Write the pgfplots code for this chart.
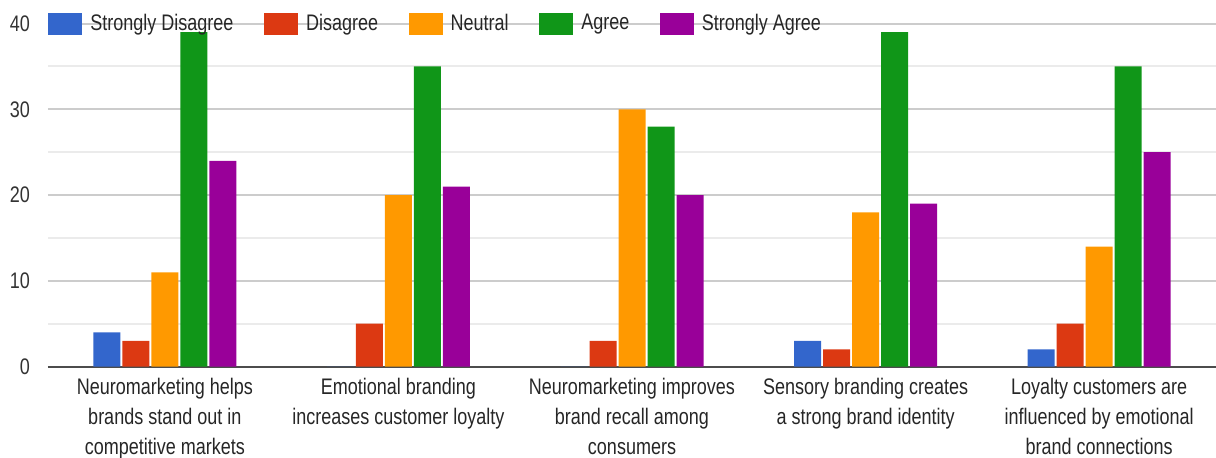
\documentclass[border=0pt]{standalone}
\usepackage{fontspec}
\setmainfont{Liberation Sans}
\usepackage{pgfplots}
\usepackage{pgfplotstable}
\pgfplotsset{compat=1.18}
\definecolor{gblue}{HTML}{3366CC}
\definecolor{gred}{HTML}{DC3912}
\definecolor{gorange}{HTML}{FF9900}
\definecolor{ggreen}{HTML}{109618}
\definecolor{gpurple}{HTML}{990099}
\pgfplotstableread{
x y
0 4
1 0
2 0
3 3
4 2
}\sdis
\pgfplotstableread{
x y
0 3
1 5
2 3
3 2
4 5
}\dis
\pgfplotstableread{
x y
0 11
1 20
2 30
3 18
4 14
}\neu
\pgfplotstableread{
x y
0 39
1 35
2 28
3 39
4 35
}\agr
\pgfplotstableread{
x y
0 24
1 21
2 20
3 19
4 25
}\sagr
\begin{document}
\begin{tikzpicture}
\begin{axis}[
  at={(0,0)}, anchor=south west,
  scale only axis, width=584pt, height=171.5pt,
  ybar=1pt, bar width=13.5pt,
  xmin=-0.5, xmax=4.5, ymin=0, ymax=40,
  clip=false,
  xtick={0,1,2,3,4},
  xticklabels={{Neuromarketing helps\\brands stand out in\\competitive markets},
               {Emotional branding\\increases customer loyalty},
               {Neuromarketing improves\\brand recall among\\consumers},
               {Sensory branding creates\\a strong brand identity},
               {Loyalty customers are\\influenced by emotional\\brand connections}},
  xticklabel style={align=center, font=\fontsize{9}{12}\selectfont, yscale=1.25, text=black!85, anchor=north, inner sep=1.5pt, yshift=-3pt},
  ytick={0,10,20,30,40}, minor y tick num=1,
  yticklabel style={font=\fontsize{9}{12}\selectfont, yscale=1.25, text=black!80, xshift=-5.5pt},
  /pgf/number format/assume math mode=true,
  ymajorgrids, yminorgrids,
  major grid style={draw=black!20, line width=1pt},
  minor grid style={draw=black!8, line width=1pt},
  extra y ticks={0}, extra y tick labels={},
  extra y tick style={major grid style={draw=black!70, line width=1pt}},
  axis line style={draw=none},
  tick style={draw=none},
  major tick length=0pt, minor tick length=0pt,
  legend columns=5,
  legend style={at={(0,1)}, anchor=west, draw=none, fill=none, inner sep=0pt,
    font=\fontsize{9}{12}\selectfont, text=black!85,
    nodes={inner sep=0pt},
    legend cell align=left,
    /tikz/every odd column/.append style={column sep=4pt},
    /tikz/every even column/.append style={column sep=15.3pt}},
  legend image code/.code={\fill[#1] (0pt,-5.5pt) rectangle (17pt,5.5pt);},
]
\addplot[fill=gblue, draw=none] table[x=x,y=y]{\sdis};
\addplot[fill=gred, draw=none] table[x=x,y=y]{\dis};
\addplot[fill=gorange, draw=none] table[x=x,y=y]{\neu};
\addplot[fill=ggreen, draw=none] table[x=x,y=y]{\agr};
\addplot[fill=gpurple, draw=none] table[x=x,y=y]{\sagr};
\legend{\scalebox{1}[1.25]{Strongly Disagree},\scalebox{1}[1.25]{Disagree},\scalebox{1}[1.25]{Neutral},\scalebox{1}[1.25]{Agree},\scalebox{1}[1.25]{Strongly Agree}}
\end{axis}
\pgfresetboundingbox
\useasboundingbox (-24pt,-45.4pt) rectangle (584pt,183.3pt);
\end{tikzpicture}
\end{document}
